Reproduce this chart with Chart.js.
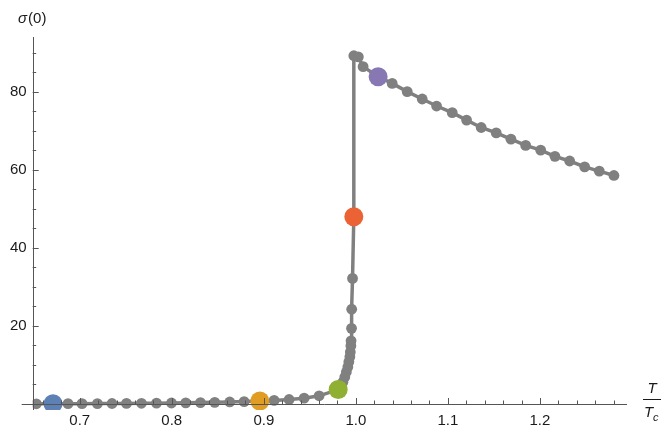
<!DOCTYPE html>
<html>
<head>
<meta charset="utf-8">
<script src="https://cdn.jsdelivr.net/npm/chart.js@4.4.0/dist/chart.umd.min.js"></script>
<style>
  html, body { margin: 0; padding: 0; background: #fff; }
</style>
</head>
<body>
<canvas id="sigmaChart" width="662" height="425"></canvas>
<script>
// T / Tc along the computed curve, in drawing order
var temps = [0.6529, 0.6710, 0.6873, 0.7025, 0.7192, 0.7351, 0.7508, 0.7671, 0.7834, 0.7997,
  0.8152, 0.8312, 0.8467, 0.8630, 0.8786, 0.8957, 0.9112, 0.9275, 0.9438, 0.9601, 0.9808,
  0.9837, 0.9859, 0.9880, 0.9897, 0.9913, 0.9924, 0.9935, 0.9940, 0.9946, 0.9948, 0.9953,
  0.9955, 0.9964, 0.9978, 0.9978, 1.0027,
  1.0079, 1.0242, 1.0395, 1.0558, 1.0721, 1.0877, 1.1047, 1.1203, 1.1362, 1.1525, 1.1685,
  1.1845, 1.2008, 1.2163, 1.2323, 1.2486, 1.2645, 1.2804];
// sigma(0) at each temperature
var sigma = [0.05, 0.06, 0.08, 0.09, 0.11, 0.13, 0.15, 0.18, 0.21, 0.25,
  0.30, 0.36, 0.43, 0.52, 0.62, 0.75, 0.92, 1.15, 1.5, 2.1, 3.7,
  4.6, 5.6, 6.9, 8.2, 9.5, 10.8, 12.1, 13.3, 14.9, 16.2, 19.4,
  24.3, 32.2, 48.0, 89.3, 89.0,
  86.5, 83.9, 82.2, 80.1, 78.2, 76.4, 74.7, 72.8, 70.9, 69.5, 67.9,
  66.3, 65.1, 63.5, 62.3, 60.8, 59.7, 58.6];

// highlighted states
var markT = [0.6710, 0.8957, 0.9808, 0.9978, 1.0242];
var markSigma = [0.06, 0.75, 3.7, 48.0, 83.9];

var xTicks = [0.7, 0.8, 0.9, 1.0, 1.1, 1.2];
var yTicks = [20, 40, 60, 80];

var markColors = ['#5e81b5', '#e19c24', '#8fb032', '#eb6235', '#8778b3'];
var curveColor = '#808080';
var axisColor = '#555555';
var textColor = '#1a1a1a';
var fontFam = '"Liberation Sans", Arial, Helvetica, sans-serif';

var curve = temps.map(function(t, i) { return {x: t, y: sigma[i]}; });
var marks = markT.map(function(t, i) { return {x: t, y: markSigma[i]}; });

var axisDecor = {
  id: 'axisDecor',
  afterDatasetsDraw: function(chart) {
    var ctx = chart.ctx, xs = chart.scales.x, ys = chart.scales.y;
    var x0 = chart.chartArea.left, y0 = ys.getPixelForValue(0);
    ctx.save();
    ctx.strokeStyle = axisColor;
    ctx.lineWidth = 1;
    ctx.beginPath();
    ctx.moveTo(x0 - 11, Math.round(y0) + 0.5);
    ctx.lineTo(chart.chartArea.right, Math.round(y0) + 0.5);
    ctx.moveTo(Math.round(x0) + 0.5, chart.chartArea.top);
    ctx.lineTo(Math.round(x0) + 0.5, chart.chartArea.bottom);
    // x ticks, minor every 0.02
    for (var k = 33; k <= 64; k++) {
      var v = k * 0.02;
      var px = Math.round(xs.getPixelForValue(v)) + 0.5;
      var len = (k % 5 === 0) ? 6 : 3.5;
      ctx.moveTo(px, y0);
      ctx.lineTo(px, y0 - len);
    }
    // y ticks, minor every 5
    for (var j = 1; j <= 18; j++) {
      var py = Math.round(ys.getPixelForValue(j * 5)) + 0.5;
      var l2 = (j % 4 === 0) ? 6 : 3.5;
      ctx.moveTo(x0, py);
      ctx.lineTo(x0 + l2, py);
    }
    ctx.stroke();

    // axis titles
    ctx.fillStyle = textColor;
    ctx.textBaseline = 'alphabetic';
    ctx.textAlign = 'left';
    ctx.font = 'italic 15px ' + fontFam;
    ctx.fillText('σ', 18, 23);
    var w = ctx.measureText('σ').width;
    ctx.font = '15px ' + fontFam;
    ctx.fillText('(0)', 18 + w + 1, 23);

    ctx.font = 'italic 15px ' + fontFam;
    ctx.textAlign = 'center';
    ctx.fillText('T', 652, 393);
    ctx.beginPath();
    ctx.moveTo(643, 399.5);
    ctx.lineTo(661, 399.5);
    ctx.lineWidth = 1;
    ctx.strokeStyle = textColor;
    ctx.stroke();
    ctx.textAlign = 'left';
    ctx.fillText('T', 644, 417);
    ctx.font = 'italic 11px ' + fontFam;
    ctx.fillText('c', 653, 421);
    ctx.restore();
  }
};

var ctxS = document.getElementById('sigmaChart').getContext('2d');
var sigmaChart = new Chart(ctxS, {
  type: 'scatter',
  data: {
    datasets: [{
      data: marks,
      showLine: false,
      pointRadius: 9.5,
      pointHoverRadius: 9.5,
      pointBorderWidth: 0,
      backgroundColor: markColors,
      order: 0
    }, {
      data: curve,
      showLine: true,
      borderColor: curveColor,
      borderWidth: 3.5,
      pointRadius: 5.4,
      pointHoverRadius: 5.4,
      pointBorderWidth: 0,
      backgroundColor: curveColor,
      tension: 0,
      order: 1
    }]
  },
  options: {
    responsive: false,
    animation: false,
    devicePixelRatio: 1,
    layout: { padding: { left: 4, right: 35, top: 37, bottom: 15 } },
    plugins: {
      legend: { display: false },
      tooltip: { enabled: false }
    },
    scales: {
      x: {
        type: 'linear',
        position: { y: 0 },
        min: 0.6489,
        max: 1.2946,
        afterBuildTicks: function(s) { s.ticks = xTicks.map(function(v) { return {value: v}; }); },
        ticks: {
          callback: function(v) { return v.toFixed(1); },
          color: textColor,
          font: { family: fontFam, size: 15 },
          padding: 8,
          maxRotation: 0,
          autoSkip: false
        },
        grid: { display: false, drawTicks: false },
        border: { display: false }
      },
      y: {
        type: 'linear',
        position: 'left',
        min: -1.54,
        max: 94.1,
        afterBuildTicks: function(s) { s.ticks = yTicks.map(function(v) { return {value: v}; }); },
        ticks: {
          color: textColor,
          font: { family: fontFam, size: 15 },
          padding: 6
        },
        grid: { display: false, drawTicks: false },
        border: { display: false }
      }
    }
  },
  plugins: [axisDecor]
});
</script>
</body>
</html>
